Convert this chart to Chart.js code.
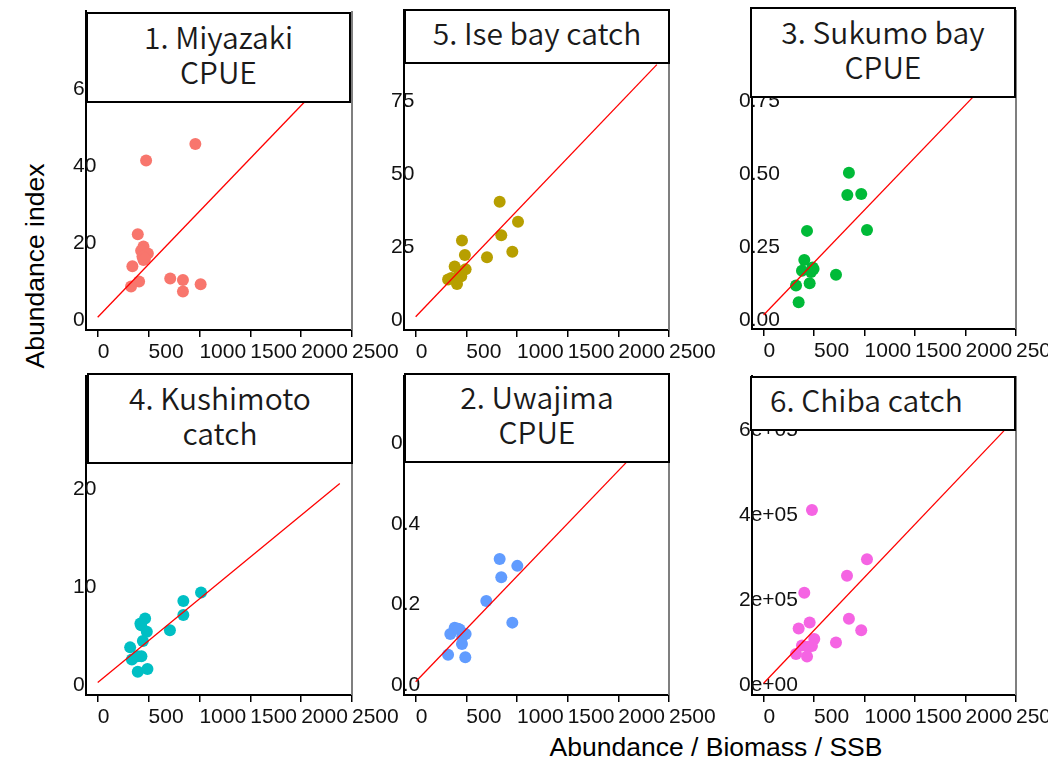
<!DOCTYPE html>
<html>
<head>
<meta charset="utf-8">
<script src="https://cdn.jsdelivr.net/npm/chart.js@4.4.1/dist/chart.umd.min.js"></script>
<style>
  html, body { margin: 0; padding: 0; background: #fff; overflow: hidden; }
  body { width: 1048px; height: 758px; position: relative; }
  canvas { position: absolute; }
  .strip {
    position: absolute; box-sizing: border-box; border: 2px solid #000; background: #fff; z-index: 5;
    font-family: "Noto Sans CJK JP", "Noto Sans", sans-serif; font-size: 30px; font-weight: 350; line-height: 35px; color: #1a1a1a;
    display: flex; flex-direction: column; justify-content: center; align-items: center; white-space: nowrap;
    padding-bottom: 8px;
  }
  .axtitle { position: absolute; font-family: "Liberation Sans", Arial, sans-serif; font-size: 26.5px; color: #000; white-space: nowrap; }
  #ylab { left: 35px; top: 266px; transform: translate(-50%, -50%) rotate(-90deg); }
  #xlab { left: 716px; top: 747px; transform: translate(-50%, -50%); }
</style>
</head>
<body>
<div class="axtitle" id="ylab">Abundance index</div>
<div class="axtitle" id="xlab">Abundance / Biomass / SSB</div>
<script>
const xTicks = [0, 500, 1000, 1500, 2000, 2500];
const xTickLabels = ['0', '500', '1000', '1500', '2000', '2500'];
const fitLineX = [0, 2380];

// 1. Miyazaki CPUE
const miyazakiTitle = ['1. Miyazaki', 'CPUE'];
const miyazakiX = [960, 476, 394, 450, 427, 493, 450, 341, 407, 328, 713, 838, 838, 1012, 440, 465];
const miyazakiY = [45.8, 41.5, 22.3, 19.1, 18.0, 17.3, 15.6, 14.0, 10.0, 8.7, 10.8, 10.4, 7.4, 9.3, 16.5, 16.0];
const miyazakiLineY = [0.7, 66.3];
const miyazakiTicks = [0, 20, 40, 60];
const miyazakiTickLabels = ['0', '20', '40', '60'];

// 5. Ise bay catch
const iseTitle = ['5. Ise bay catch'];
const iseX = [829, 1010, 845, 457, 486, 954, 704, 385, 493, 434, 320, 352, 408, 450, 400];
const iseY = [40.5, 33.7, 29.0, 27.2, 22.3, 23.4, 21.5, 18.3, 17.4, 16.5, 13.9, 14.4, 12.3, 15.0, 14.0];
const iseLineY = [1.1, 87.5];
const iseTicks = [0, 25, 50, 75];
const iseTickLabels = ['0', '25', '50', '75'];

// 3. Sukumo bay CPUE
const sukumoTitle = ['3. Sukumo bay', 'CPUE'];
const sukumoX = [845, 829, 967, 1024, 430, 403, 380, 495, 470, 717, 321, 456, 347, 485];
const sukumoY = [0.506, 0.429, 0.433, 0.309, 0.306, 0.206, 0.169, 0.175, 0.165, 0.155, 0.118, 0.126, 0.061, 0.18];
const sukumoLineY = [0.017, 0.876];
const sukumoTicks = [0, 0.25, 0.5, 0.75];
const sukumoTickLabels = ['0.00', '0.25', '0.50', '0.75'];

// 4. Kushimoto catch
const kushimotoTitle = ['4. Kushimoto', 'catch'];
const kushimotoX = [1016, 842, 842, 710, 466, 427, 483, 444, 319, 336, 392, 430, 394, 489, 420];
const kushimotoY = [9.45, 8.6, 7.15, 5.6, 6.8, 6.1, 5.45, 4.5, 3.85, 2.6, 2.95, 2.95, 1.35, 1.65, 6.3];
const kushimotoLineY = [0.27, 20.6];
const kushimotoTicks = [0, 10, 20];
const kushimotoTickLabels = ['0', '10', '20'];

// 2. Uwajima CPUE
const uwajimaTitle = ['2. Uwajima', 'CPUE'];
const uwajimaX = [829, 1003, 845, 697, 954, 385, 434, 342, 493, 460, 457, 320, 490, 418];
const uwajimaY = [0.313, 0.296, 0.268, 0.209, 0.155, 0.142, 0.138, 0.127, 0.127, 0.12, 0.102, 0.075, 0.069, 0.14];
const uwajimaLineY = [0.008, 0.632];
const uwajimaTicks = [0, 0.2, 0.4, 0.6];
const uwajimaTickLabels = ['0.0', '0.2', '0.4', '0.6'];

// 6. Chiba catch
const chibaTitle = ['6. Chiba catch'];
const chibaX = [479, 1024, 826, 403, 456, 347, 845, 967, 502, 717, 380, 479, 440, 321, 430];
const chibaY = [412000, 296000, 257000, 217000, 147000, 133000, 156000, 129000, 108000, 100000, 93000, 92000, 90000, 73000, 67000];
const chibaLineY = [4000, 598000];
const chibaTicks = [0, 200000, 400000, 600000];
const chibaTickLabels = ['0e+00', '2e+05', '4e+05', '6e+05'];

const tickFont = { family: '"Liberation Sans", Arial, sans-serif', size: 21 };

// plot area right edge (grey line like the reference frame)
const frameRight = {
  id: 'frameRight',
  afterDatasetsDraw(chart) {
    const { ctx, chartArea: a } = chart;
    ctx.save();
    ctx.strokeStyle = '#7f7f7f';
    ctx.lineWidth = 2;
    ctx.beginPath();
    ctx.moveTo(a.right, a.top);
    ctx.lineTo(a.right, a.bottom);
    ctx.stroke();
    ctx.restore();
  }
};

function makePanel(p) {
  const ML = 50, MR = 60, MT = 20, MB = 45;
  const w = p.area[2] - p.area[0], h = p.area[3] - p.area[1];
  const canvas = document.createElement('canvas');
  canvas.width = ML + w + MR;
  canvas.height = MT + h + MB;
  canvas.style.left = (p.area[0] - ML) + 'px';
  canvas.style.top = (p.area[1] - MT) + 'px';
  document.body.appendChild(canvas);

  new Chart(canvas.getContext('2d'), {
    type: 'scatter',
    data: {
      datasets: [
        {
          data: fitLineX.map((x, i) => ({ x: x, y: p.lineY[i] })),
          showLine: true, borderColor: '#ff0000', borderWidth: 1.3, pointRadius: 0, fill: false
        },
        {
          data: p.x.map((x, i) => ({ x: x, y: p.y[i] })),
          pointRadius: 6, pointBorderWidth: 0, backgroundColor: p.color, pointBackgroundColor: p.color
        }
      ]
    },
    options: {
      responsive: false,
      animation: false,
      devicePixelRatio: 1,
      layout: { padding: { left: ML - 13, right: MR, top: MT, bottom: MB - 40 } },
      plugins: { legend: { display: false }, tooltip: { enabled: false } },
      scales: {
        x: {
          type: 'linear', min: -115, max: 2500,
          afterFit: s => { s.height = 40; },
          afterBuildTicks: s => { s.ticks = xTicks.map(v => ({ value: v })); },
          grid: { drawOnChartArea: false, drawTicks: true, tickLength: 7, color: '#000', lineWidth: 1.5 },
          border: { display: true, color: '#000', width: 2 },
          ticks: {
            align: 'start', autoSkip: false, maxRotation: 0, padding: 3, color: '#111', font: tickFont,
            callback: v => xTickLabels[xTicks.indexOf(v)]
          }
        },
        y: {
          type: 'linear', min: p.yRange[0], max: p.yRange[1],
          afterFit: s => { s.width = 13; },
          afterBuildTicks: s => { s.ticks = p.yTicks.map(v => ({ value: v })); },
          grid: { display: false },
          border: { display: true, color: '#000', width: 2 },
          ticks: {
            mirror: true, padding: -13, color: '#111', font: tickFont,
            callback: v => p.yLabels[p.yTicks.indexOf(v)]
          }
        }
      }
    },
    plugins: [frameRight]
  });

  const strip = document.createElement('div');
  strip.className = 'strip';
  strip.style.left = p.strip[0] + 'px';
  strip.style.top = p.strip[1] + 'px';
  strip.style.width = p.strip[2] + 'px';
  strip.style.height = p.strip[3] + 'px';
  if (p.stripLeft) {
    strip.style.alignItems = 'flex-start';
    strip.style.paddingLeft = p.stripLeft + 'px';
  }
  p.title.forEach(t => {
    const line = document.createElement('div');
    line.textContent = t;
    strip.appendChild(line);
  });
  document.body.appendChild(strip);
}

makePanel({ title: miyazakiTitle, x: miyazakiX, y: miyazakiY, lineY: miyazakiLineY, yTicks: miyazakiTicks, yLabels: miyazakiTickLabels,
  color: '#F8766D', yRange: [-2.6, 80.4], area: [86, 11, 352, 330], strip: [86, 12, 265, 91] });
makePanel({ title: iseTitle, x: iseX, y: iseY, lineY: iseLineY, yTicks: iseTicks, yLabels: iseTickLabels,
  color: '#B79F00', yRange: [-3.42, 106.2], area: [404, 10, 669, 330], strip: [404, 9, 266, 55] });
makePanel({ title: sukumoTitle, x: sukumoX, y: sukumoY, lineY: sukumoLineY, yTicks: sukumoTicks, yLabels: sukumoTickLabels,
  color: '#00BA38', yRange: [-0.031, 1.0646], area: [752, 10, 1016, 329], strip: [750, 7, 266, 91] });
makePanel({ title: kushimotoTitle, x: kushimotoX, y: kushimotoY, lineY: kushimotoLineY, yTicks: kushimotoTicks, yLabels: kushimotoTickLabels,
  color: '#00BFC4', yRange: [-1.02, 31.6], area: [86, 376, 352, 695], strip: [87, 373, 266, 91] });
makePanel({ title: uwajimaTitle, x: uwajimaX, y: uwajimaY, lineY: uwajimaLineY, yTicks: uwajimaTicks, yLabels: uwajimaTickLabels,
  color: '#619CFF', yRange: [-0.0248, 0.7677], area: [404, 376, 669, 695], strip: [404, 373, 266, 90] });
makePanel({ title: chibaTitle, x: chibaX, y: chibaY, lineY: chibaLineY, yTicks: chibaTicks, yLabels: chibaTickLabels,
  color: '#F564E3', yRange: [-23530, 727000], area: [752, 376, 1016, 695], strip: [750, 376, 266, 55], stripLeft: 18 });
</script>
</body>
</html>
